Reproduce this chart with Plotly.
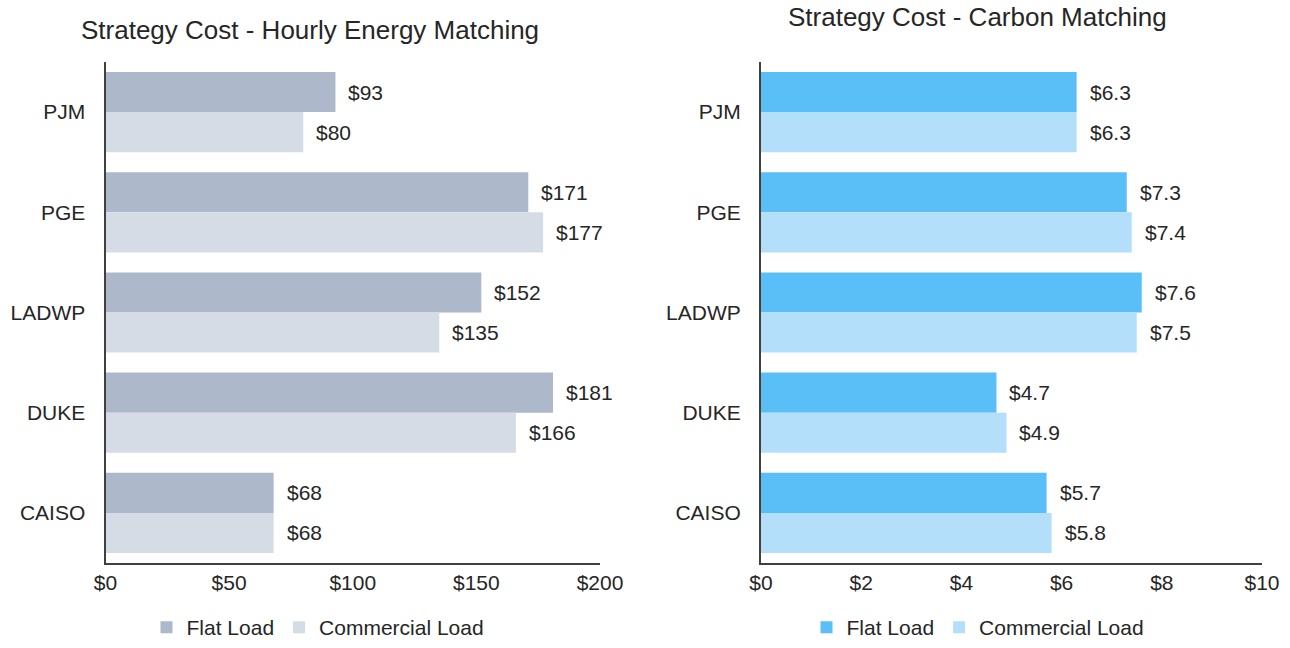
import plotly.graph_objects as go

regions = ["PJM", "PGE", "LADWP", "DUKE", "CAISO"]
hourly_flat = [93, 171, 152, 181, 68]
hourly_comm = [80, 177, 135, 166, 68]
carbon_flat = [6.3, 7.3, 7.6, 4.7, 5.7]
carbon_comm = [6.3, 7.4, 7.5, 4.9, 5.8]
hourly_ticks = [0, 50, 100, 150, 200]
carbon_ticks = [0, 2, 4, 6, 8, 10]

FONT = "Liberation Sans, Arial, sans-serif"
TXT = "#262626"
AX = "#404040"

fig = go.Figure()
fig.add_trace(go.Bar(y=regions, x=hourly_flat, orientation="h", name="Flat Load",
                     marker=dict(color="#ADB9CA", line=dict(width=0)),
                     xaxis="x", yaxis="y", legend="legend"))
fig.add_trace(go.Bar(y=regions, x=hourly_comm, orientation="h", name="Commercial Load",
                     marker=dict(color="#D6DCE5", line=dict(width=0)),
                     xaxis="x", yaxis="y", legend="legend"))
fig.add_trace(go.Bar(y=regions, x=carbon_flat, orientation="h", name="Flat Load",
                     marker=dict(color="#5BBFF7", line=dict(width=0)),
                     xaxis="x2", yaxis="y2", legend="legend2"))
fig.add_trace(go.Bar(y=regions, x=carbon_comm, orientation="h", name="Commercial Load",
                     marker=dict(color="#B4DFFA", line=dict(width=0)),
                     xaxis="x2", yaxis="y2", legend="legend2"))

annotations = []
for r, f, c in zip(regions, hourly_flat, hourly_comm):
    annotations.append(dict(x=f, y=r, xref="x", yref="y", text=f"${f}", showarrow=False,
                            xanchor="left", xshift=11, yshift=20, font=dict(size=21, color=TXT)))
    annotations.append(dict(x=c, y=r, xref="x", yref="y", text=f"${c}", showarrow=False,
                            xanchor="left", xshift=11, yshift=-20, font=dict(size=21, color=TXT)))
for r, f, c in zip(regions, carbon_flat, carbon_comm):
    annotations.append(dict(x=f, y=r, xref="x2", yref="y2", text=f"${f:.1f}", showarrow=False,
                            xanchor="left", xshift=11, yshift=20, font=dict(size=21, color=TXT)))
    annotations.append(dict(x=c, y=r, xref="x2", yref="y2", text=f"${c:.1f}", showarrow=False,
                            xanchor="left", xshift=11, yshift=-20, font=dict(size=21, color=TXT)))

annotations.append(dict(x=310 / 1290, y=1 - 30 / 648, xref="paper", yref="paper",
                        text="Strategy Cost - Hourly Energy Matching", showarrow=False,
                        xanchor="center", yanchor="middle", font=dict(size=26, color=TXT)))
annotations.append(dict(x=977 / 1290, y=1 - 17 / 648, xref="paper", yref="paper",
                        text="Strategy Cost - Carbon Matching", showarrow=False,
                        xanchor="center", yanchor="middle", font=dict(size=26, color=TXT)))

axis_common = dict(showgrid=False, zeroline=False, showline=True, linecolor=AX, linewidth=2,
                   ticks="", tickfont=dict(size=21, color=TXT), automargin=False)

fig.update_layout(
    width=1290, height=648,
    margin=dict(l=0, r=0, t=0, b=0),
    paper_bgcolor="white", plot_bgcolor="white",
    font=dict(family=FONT, color=TXT, size=21),
    barmode="group", bargap=0.2, bargroupgap=0,
    showlegend=True,
    xaxis=dict(domain=[105.5 / 1290, 600 / 1290], range=[0, 200], tickvals=hourly_ticks,
               ticktext=[f"${t}" for t in hourly_ticks], anchor="y", **axis_common),
    yaxis=dict(domain=[1 - 563 / 648, 1 - 62 / 648], autorange="reversed", anchor="x",
               ticklabelstandoff=14, **axis_common),
    xaxis2=dict(domain=[761 / 1290, 1262 / 1290], range=[0, 10], tickvals=carbon_ticks,
                ticktext=[f"${t}" for t in carbon_ticks], anchor="y2", **axis_common),
    yaxis2=dict(domain=[1 - 563 / 648, 1 - 62 / 648], autorange="reversed", anchor="x2",
                ticklabelstandoff=14, **axis_common),
    legend=dict(orientation="h", x=318 / 1290, y=0, xanchor="center", yanchor="bottom",
                font=dict(size=21, color=TXT), itemwidth=30, bgcolor="rgba(0,0,0,0)"),
    legend2=dict(orientation="h", x=978 / 1290, y=0, xanchor="center", yanchor="bottom",
                 font=dict(size=21, color=TXT), itemwidth=30, bgcolor="rgba(0,0,0,0)"),
    annotations=annotations,
)

fig.write_html("out.html", config={"displayModeBar": False},
               post_script="document.body.style.margin='0';document.body.style.overflow='hidden';")
